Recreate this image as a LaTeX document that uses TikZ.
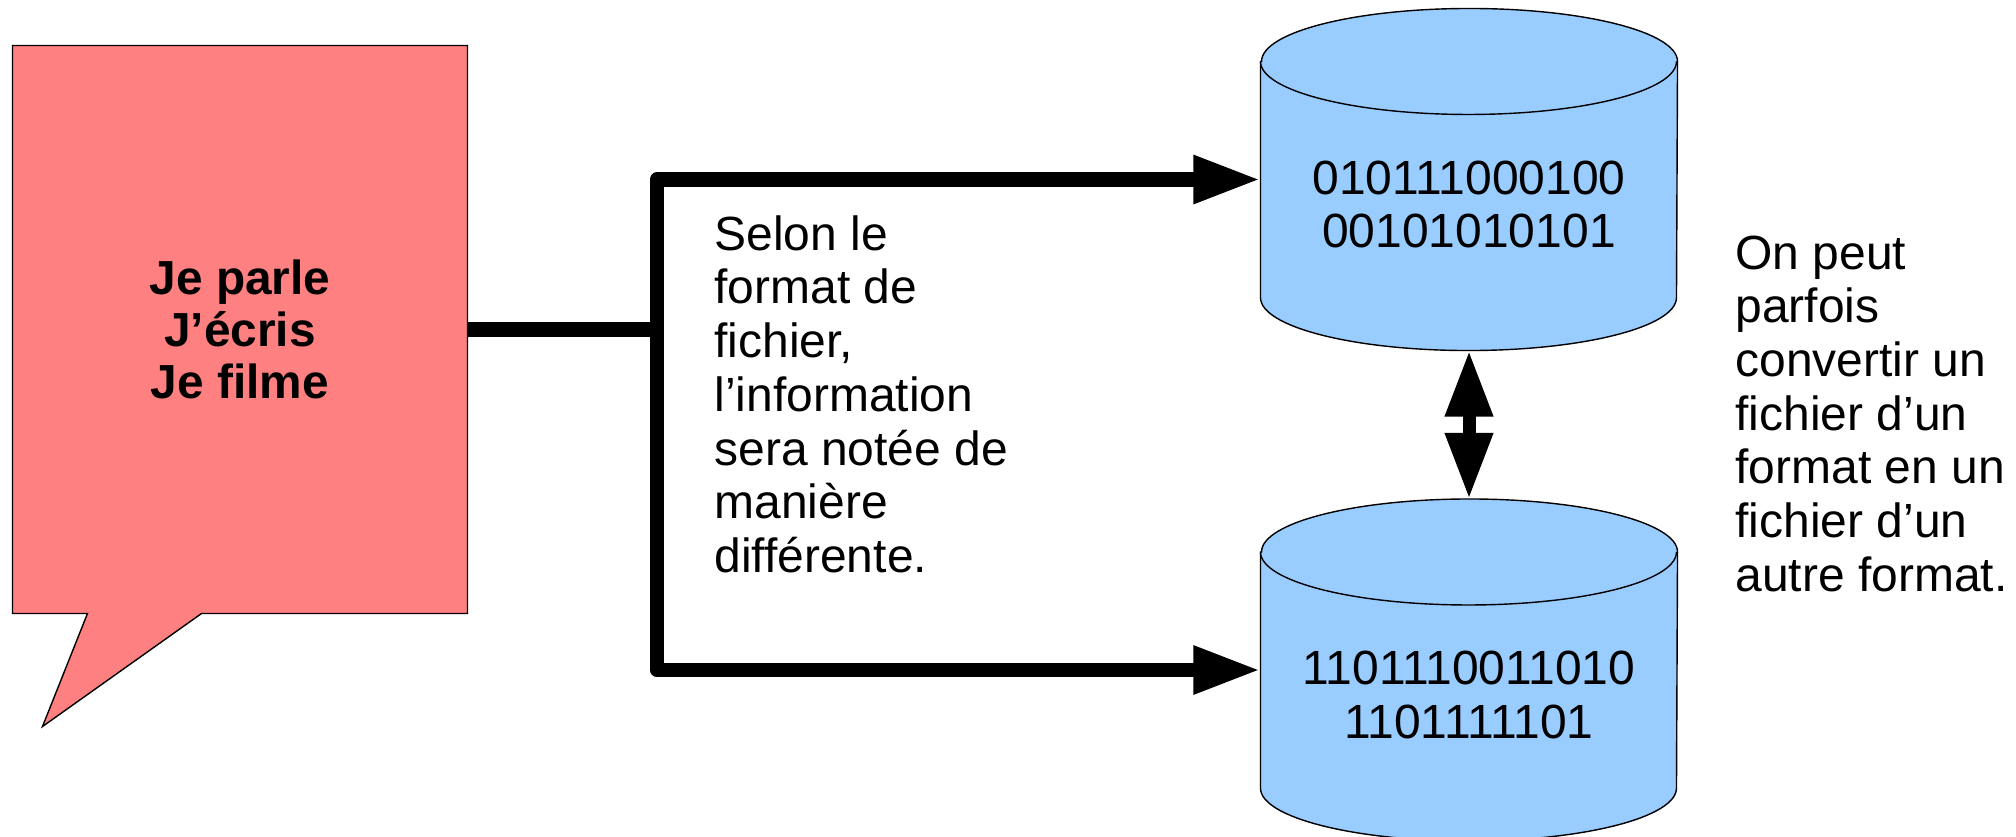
\documentclass[tikz,border=0pt]{standalone}
\usepackage{fontspec}
\setmainfont{Liberation Sans}
\usetikzlibrary{
  positioning,
  arrows.meta,
  backgrounds}
\definecolor{bubblered}{RGB}{255,128,128}
\definecolor{dbblue}{RGB}{153,204,255}

\begin{document}
\begin{tikzpicture}[
  x=0.1mm, y=-0.1mm,
  line width=0.3pt,
  every node/.style={inner sep=0pt,font=\fontsize{13.65pt}{15.28pt}\selectfont},
  wire/.style={line width=1.45mm,line join=round},
  bigtip/.style={-{Triangle[length=6.7mm,width=4.5mm]}},
  dbbody/.style={minimum width=41.6mm,minimum height=23.5mm},
  dbshell/.style={draw,fill=dbblue},
  bits/.style={align=center},
  note/.style={align=left,anchor=north west}
]%
  \useasboundingbox (0,0) rectangle (2016,836);

  \node[minimum width=45.4mm,minimum height=56.7mm,align=center,
    font=\bfseries\fontsize{13.6pt}{14.8pt}\selectfont] (bubble) at (240,329.5)
    {Je parle\\J’écris\\Je filme};

  \node[dbbody] (dbA) at (1469,179.5) {};
  \node[dbbody] (dbB) at (1469,670) {};
  \node[bits] (bitsA) at ([yshift=-2.5mm]dbA.center) {010111000100\\00101010101};
  \node[bits] (bitsB) at ([yshift=-2.5mm]dbB.center) {1101110011010\\1101111101};

  \node[note] (howto) at (714,215)
    {Selon le\\format de\\fichier,\\l’information\\sera notée de\\manière\\différente.};
  \node[note] (convert) at (1735,235)
    {On peut\\parfois\\convertir un\\fichier d’un\\format en un\\fichier d’un\\autre format.};

  \begin{scope}[on background layer]
    \filldraw[fill=bubblered] (bubble.north west) -- (bubble.north east)
      -- (bubble.south east) -- ([xshift=18.9mm]bubble.south west)
      -- ([xshift=3mm,yshift=-11.3mm]bubble.south west)
      -- ([xshift=7.5mm]bubble.south west) -- (bubble.south west) -- cycle;
    \foreach \db in {dbA,dbB}{
      \filldraw[dbshell] (\db.north west) -- (\db.south west)
        arc[start angle=180,end angle=360,x radius=20.8mm,y radius=5.3mm]
        -- (\db.north east)
        arc[start angle=0,end angle=180,x radius=20.8mm,y radius=5.3mm] -- cycle;
      \draw (\db.north west) arc[start angle=180,end angle=360,x radius=20.8mm,y radius=5.3mm];
    }
  \end{scope}

  \coordinate[right=18.95mm of bubble.east] (fork);
  \draw[wire] (bubble.east) -- (fork);
  \draw[wire,bigtip] (fork) |- (dbA.west);
  \draw[wire,bigtip] (fork) |- (dbB.west);
  \draw[line width=1.3mm,{Triangle[length=6.6mm,width=4.5mm]}-{Triangle[length=6.6mm,width=4.5mm]}]
    ([yshift=-5.3mm]dbA.south) -- ([yshift=5.3mm]dbB.north);
\end{tikzpicture}
\end{document}
